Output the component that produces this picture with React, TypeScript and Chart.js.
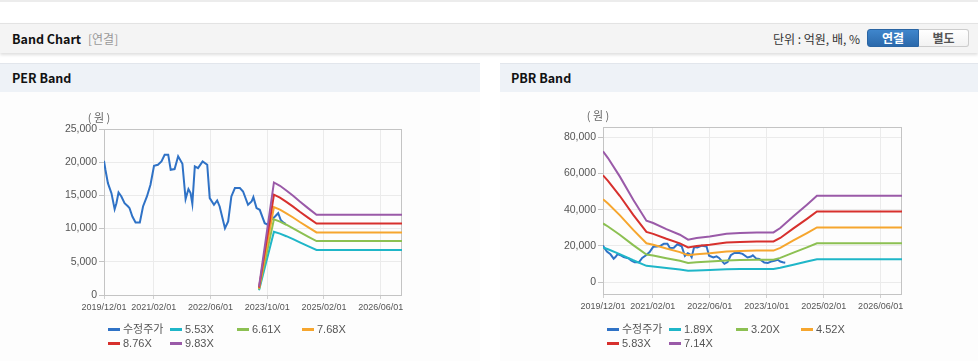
import React, { useEffect, useRef } from "react";
import { Chart, registerables } from "chart.js";
Chart.register(...registerables);

// ---------- data ----------
const xTickMonths = [0, 14, 30, 46, 62, 78];
const xTickLabels = ["2019/12/01", "2021/02/01", "2022/06/01", "2023/10/01", "2025/02/01", "2026/06/01"];

const priceMonths = [0, 0.4, 1.1, 2.1, 3.0, 3.5, 4.1, 4.9, 5.8, 6.8, 7.2, 8.0, 8.9, 10.1, 11.0, 12.1, 13.1, 14.1, 15.2, 16.2, 17.1, 18.1, 18.8, 19.9, 20.9, 22.1, 23.0, 23.8, 24.4, 24.9, 25.6, 26.5, 27.8, 29.1, 29.8, 31.0, 31.9, 32.6, 34.1, 35.0, 35.9, 36.9, 38.3, 39.2, 40.6, 41.6, 42.1, 43.0, 43.9, 45.3, 46.3, 47.2, 48.2, 49.1, 49.8, 50.5, 51.2];
const priceValues = [20200, 18860, 16850, 15340, 12930, 13830, 15440, 14840, 13830, 13330, 13080, 11820, 10920, 10920, 13330, 14840, 16600, 19470, 19620, 20120, 21130, 21130, 18860, 18960, 20880, 19770, 14440, 15950, 15340, 13730, 19370, 19110, 20120, 19620, 14590, 13580, 14240, 13330, 10060, 11070, 14840, 16100, 16100, 15590, 13580, 14080, 14740, 13080, 12830, 10810, 10560, 11320, 11820, 12320, 11320, 10920, 10710];

const perBandMonths = [43.7, 47.9, 49.6, 51.4, 53.3, 55.2, 57.5, 59.9, 84];
const per553 = [708, 9534, 9252, 8854, 8406, 7919, 7360, 6791, 6791];
const per661 = [846, 11396, 11059, 10583, 10047, 9466, 8798, 8117, 8117];
const per768 = [983, 13240, 12849, 12296, 11674, 10998, 10222, 9431, 9431];
const per876 = [1121, 15102, 14655, 14025, 13315, 12544, 11660, 10757, 10757];
const per983 = [1258, 16947, 16446, 15738, 14942, 14077, 13084, 12071, 12071];

const pbrBandMonths = [0, 1.4, 4.7, 8.5, 12.2, 14.1, 17.8, 21.6, 23.9, 26.3, 30, 34.7, 38.5, 43.2, 47.9, 49.8, 53.5, 57.3, 60.1, 84];
const pbr189 = [19127, 18144, 15460, 12049, 8978, 8637, 7749, 6927, 6199, 6445, 6681, 7069, 7173, 7267, 7267, 7900, 9611, 11321, 12635, 12635];
const pbr320 = [32384, 30720, 26176, 20400, 15200, 14624, 13120, 11728, 10496, 10912, 11312, 11968, 12144, 12304, 12304, 13376, 16272, 19168, 21392, 21392];
const pbr452 = [45742, 43392, 36974, 28815, 21470, 20656, 18532, 16566, 14826, 15413, 15978, 16905, 17153, 17379, 17379, 18894, 22984, 27075, 30216, 30216];
const pbr583 = [59000, 55968, 47689, 37166, 27693, 26643, 23903, 21367, 19122, 19880, 20609, 21804, 22125, 22416, 22416, 24369, 29646, 34922, 38974, 38974];
const pbr714 = [72257, 68544, 58405, 45518, 33915, 32630, 29274, 26168, 23419, 24347, 25240, 26704, 27096, 27453, 27453, 29845, 36307, 42769, 47731, 47731];

const perLabels = ["수정주가", "5.53X", "6.61X", "7.68X", "8.76X", "9.83X"];
const pbrLabels = ["수정주가", "1.89X", "3.20X", "4.52X", "5.83X", "7.14X"];
const seriesColors = ["#2f72c6", "#1fb6c8", "#8cc052", "#f6a62e", "#d7302d", "#9a5aa8"];

const perYTicks = [0, 5000, 10000, 15000, 20000, 25000];
const pbrYTicks = [0, 20000, 40000, 60000, 80000];

// ---------- helpers ----------
const pts = (ms: number[], vs: number[]) => ms.map((m, i) => ({ x: m, y: vs[i] }));

const FONT = "'Liberation Sans', Arial, 'Noto Sans CJK KR', sans-serif";

type Cfg = {
  width: number;
  height: number;
  labels: string[];
  data: { x: number; y: number }[][];
  yMin: number;
  yMax: number;
  yTicks: number[];
  pad: { left: number; right: number; top: number; bottom: number; xh: number };
};

function BandChart(props: Cfg) {
  const ref = useRef<HTMLCanvasElement | null>(null);
  useEffect(() => {
    if (!ref.current) return;
    const boxPlugin = {
      id: "box",
      beforeDatasetsDraw(chart: any) {
        const { ctx, chartArea: a } = chart;
        ctx.save();
        ctx.strokeStyle = "#c4c4c4";
        ctx.lineWidth = 1;
        ctx.strokeRect(Math.round(a.left) + 0.5, Math.round(a.top) + 0.5, Math.round(a.right - a.left) - 1, Math.round(a.bottom - a.top));
        ctx.restore();
      },
      afterDraw(chart: any) {
        const { ctx, chartArea: a } = chart;
        ctx.save();
        ctx.fillStyle = "#666";
        ctx.font = "11px 'Noto Sans CJK KR', sans-serif";
        ctx.textAlign = "center";
        ctx.textBaseline = "middle";
        ctx.fillText("( 원 )", a.left - 5, a.top - 11);
        ctx.restore();
      },
    };
    const chart = new Chart(ref.current, {
      type: "line",
      data: {
        datasets: props.data.map((d, i) => ({
          label: props.labels[i],
          data: d,
          borderColor: seriesColors[i],
          backgroundColor: seriesColors[i],
          borderWidth: 2,
          pointRadius: 0,
          tension: 0,
          fill: false,
          order: i === 0 ? 10 : 6 - i,
        })),
      },
      options: {
        animation: false,
        responsive: false,
        devicePixelRatio: 1,
        layout: { padding: { left: 0, right: props.pad.right, top: props.pad.top, bottom: props.pad.bottom } },
        plugins: { legend: { display: false }, tooltip: { enabled: false } },
        scales: {
          x: {
            type: "linear",
            min: 0,
            max: 84,
            afterBuildTicks: (axis: any) => {
              axis.ticks = xTickMonths.map((v) => ({ value: v }));
            },
            afterFit: (axis: any) => {
              axis.height = props.pad.xh;
            },
            ticks: {
              autoSkip: false,
              maxRotation: 0,
              padding: 3,
              color: "#555",
              font: { size: 9, family: FONT },
              callback: (v: any) => {
                const idx = xTickMonths.indexOf(Number(v));
                return idx >= 0 ? xTickLabels[idx] : "";
              },
            },
            grid: { color: "#ebebeb", tickLength: 4, tickColor: "#d0d0d0" },
            border: { display: false },
          },
          y: {
            type: "linear",
            min: props.yMin,
            max: props.yMax,
            afterBuildTicks: (axis: any) => {
              axis.ticks = props.yTicks.map((v) => ({ value: v }));
            },
            afterFit: (axis: any) => {
              axis.width = props.pad.left;
            },
            ticks: {
              padding: 2,
              color: "#555",
              font: { size: 10.5, family: FONT },
              callback: (v: any) => Number(v).toLocaleString("en-US"),
            },
            grid: { color: "#ebebeb", tickLength: 5, tickColor: "#c4c4c4" },
            border: { display: false },
          },
        },
      },
      plugins: [boxPlugin],
    } as any);
    return () => chart.destroy();
  }, []);
  return <canvas ref={ref} width={props.width} height={props.height} style={{ display: "block", width: props.width, height: props.height }} />;
}

function Legend({ labels, left, top }: { labels: string[]; left: number; top: number }) {
  return (
    <div
      style={{
        position: "absolute",
        left,
        top,
        display: "grid",
        gridTemplateColumns: "62px 67px 65px 65px",
        rowGap: 0,
        fontFamily: FONT,
        fontSize: 11,
        color: "#555",
        lineHeight: "14px",
      }}
    >
      {labels.map((l, i) => (
        <div key={l} style={{ display: "flex", alignItems: "center", whiteSpace: "nowrap" }}>
          <span style={{ display: "inline-block", width: 12, height: 3, background: seriesColors[i], marginRight: 3 }} />
          <span>{l}</span>
        </div>
      ))}
    </div>
  );
}

const headerFont = "'Noto Sans CJK KR', 'Noto Sans', sans-serif";

export default function App() {
  return (
    <div style={{ position: "absolute", left: 0, top: 0, width: 978, height: 361, background: "#fff", overflow: "hidden" }}>
      <div style={{ position: "absolute", left: 0, top: 0, width: 978, height: 2, background: "#ececec" }} />
      {/* Band Chart header */}
      <div
        style={{
          position: "absolute",
          left: 0,
          top: 23,
          width: 978,
          height: 29,
          background: "#f4f4f4",
          borderTop: "1px solid #e3e3e3",
          boxShadow: "0 2px 3px rgba(0,0,0,0.13)",
          fontFamily: headerFont,
        }}
      >
        <span style={{ position: "absolute", left: 12, top: 6, fontSize: 12.5, fontWeight: 700, color: "#111", lineHeight: "18px" }}>Band Chart</span>
        <span style={{ position: "absolute", left: 88, top: 6, fontSize: 12, color: "#999", lineHeight: "18px" }}>[연결]</span>
        <span style={{ position: "absolute", right: 118, top: 6, fontSize: 12, color: "#333", lineHeight: "18px" }}>단위 : 억원, 배, %</span>
        <div
          style={{
            position: "absolute",
            left: 867,
            top: 5,
            width: 52,
            height: 18,
            boxSizing: "border-box",
            background: "linear-gradient(#3f86cc, #2b69ab)",
            border: "1px solid #2a65a3",
            borderRadius: "3px 0 0 3px",
            color: "#fff",
            fontSize: 12,
            fontWeight: 700,
            textAlign: "center",
            lineHeight: "16px",
          }}
        >
          연결
        </div>
        <div
          style={{
            position: "absolute",
            left: 919,
            top: 5,
            width: 50,
            height: 18,
            boxSizing: "border-box",
            background: "linear-gradient(#ffffff, #f2f2f2)",
            border: "1px solid #cccccc",
            borderLeft: "none",
            borderRadius: "0 3px 3px 0",
            color: "#555",
            fontSize: 12,
            fontWeight: 700,
            textAlign: "center",
            lineHeight: "16px",
          }}
        >
          별도
        </div>
      </div>

      {/* Panel headers */}
      <div style={{ position: "absolute", left: 0, top: 63, width: 480, height: 28, background: "#eef2f7", borderTop: "1px solid #e2e6ec", fontFamily: headerFont }}>
        <span style={{ position: "absolute", left: 12, top: 5, fontSize: 12.5, fontWeight: 700, color: "#111", lineHeight: "18px" }}>PER Band</span>
      </div>
      <div style={{ position: "absolute", left: 500, top: 63, width: 478, height: 28, background: "#eef2f7", borderTop: "1px solid #e2e6ec", fontFamily: headerFont }}>
        <span style={{ position: "absolute", left: 11, top: 5, fontSize: 12.5, fontWeight: 700, color: "#111", lineHeight: "18px" }}>PBR Band</span>
      </div>

      {/* PER chart */}
      <div style={{ position: "absolute", left: 0, top: 92, width: 480, height: 269, background: "#fdfdfd" }}>
        <BandChart
          width={480}
          height={269}
          labels={perLabels}
          data={[
            pts(priceMonths, priceValues),
            pts(perBandMonths, per553),
            pts(perBandMonths, per661),
            pts(perBandMonths, per768),
            pts(perBandMonths, per876),
            pts(perBandMonths, per983),
          ]}
          yMin={0}
          yMax={25000}
          yTicks={perYTicks}
          pad={{ left: 104, right: 78, top: 37, bottom: 42, xh: 24 }}
        />
      </div>
      <Legend labels={perLabels} left={108} top={322} />

      {/* PBR chart */}
      <div style={{ position: "absolute", left: 500, top: 92, width: 478, height: 269, background: "#fdfdfd" }}>
        <BandChart
          width={478}
          height={269}
          labels={pbrLabels}
          data={[
            pts(priceMonths, priceValues),
            pts(pbrBandMonths, pbr189),
            pts(pbrBandMonths, pbr320),
            pts(pbrBandMonths, pbr452),
            pts(pbrBandMonths, pbr583),
            pts(pbrBandMonths, pbr714),
          ]}
          yMin={-6600}
          yMax={85700}
          yTicks={pbrYTicks}
          pad={{ left: 103, right: 76, top: 35, bottom: 43, xh: 24 }}
        />
      </div>
      <Legend labels={pbrLabels} left={607} top={322} />
    </div>
  );
}
